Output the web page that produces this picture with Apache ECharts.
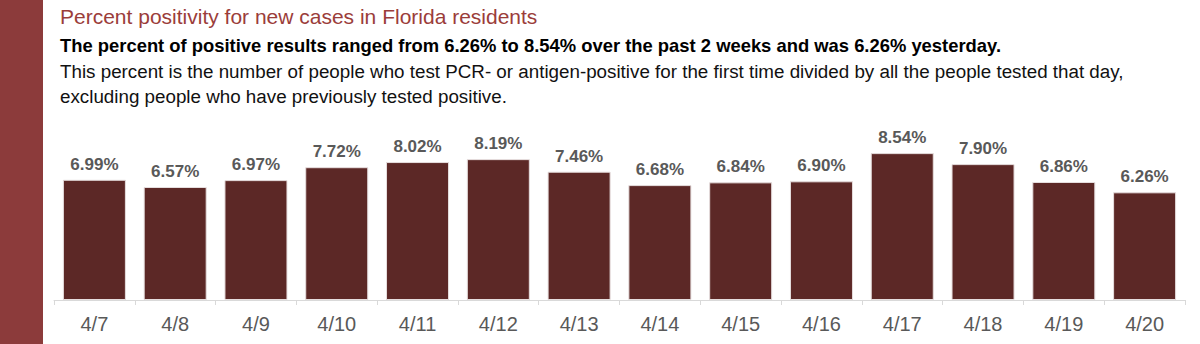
<!DOCTYPE html>
<html>
<head>
<meta charset="utf-8">
<script src="https://cdn.jsdelivr.net/npm/echarts@6/dist/echarts.min.js"></script>
<style>
html,body{margin:0;padding:0;background:#fff;}
#c{width:1200px;height:344px;}
</style>
</head>
<body>
<div id="c"></div>
<script>
const categories = ['4/7','4/8','4/9','4/10','4/11','4/12','4/13','4/14','4/15','4/16','4/17','4/18','4/19','4/20'];
const positivity = [6.99, 6.57, 6.97, 7.72, 8.02, 8.19, 7.46, 6.68, 6.84, 6.90, 8.54, 7.90, 6.86, 6.26];
const titleText = 'Percent positivity for new cases in Florida residents';
const subtitleText = 'The percent of positive results ranged from 6.26% to 8.54% over the past 2 weeks and was 6.26% yesterday.';
const noteLines = ['This percent is the number of people who test PCR- or antigen-positive for the first time divided by all the people tested that day,',
                   'excluding people who have previously tested positive.'];

const FONT = '"Liberation Sans", Arial, sans-serif';
const chart = echarts.init(document.getElementById('c'), null, {renderer: 'svg'});
chart.setOption({
  animation: false,
  backgroundColor: '#ffffff',
  graphic: [
    {type: 'rect', left: 0, top: 0, shape: {x: 0, y: 0, width: 43, height: 344}, style: {fill: '#8c3b3b'}},
    {type: 'text', left: 60, top: 6, style: {text: titleText, font: '21px ' + FONT, fill: '#9b3d3a'}},
    {type: 'text', left: 60, top: 36, style: {text: subtitleText, font: 'bold 18.4px ' + FONT, fill: '#000000'}},
    {type: 'text', left: 60, top: 62, style: {text: noteLines[0], font: '18.8px ' + FONT, fill: '#111111'}},
    {type: 'text', left: 60, top: 87, style: {text: noteLines[1], font: '18.8px ' + FONT, fill: '#111111'}}
  ],
  grid: {left: 54, right: 15, top: 128, bottom: 44, containLabel: false},
  xAxis: {
    type: 'category',
    data: categories,
    axisLine: {show: true, lineStyle: {color: '#d9d9d9', width: 1}},
    axisTick: {show: true, length: 5, lineStyle: {color: '#d9d9d9'}},
    axisLabel: {color: '#595959', fontSize: 20, fontFamily: FONT, margin: 14}
  },
  yAxis: {type: 'value', min: 0, max: 10, show: false, splitLine: {show: false}},
  series: [{
    type: 'bar',
    data: positivity,
    barCategoryGap: '22%',
    itemStyle: {color: '#5c2826', borderColor: '#e6dede', borderWidth: 1},
    label: {
      show: true, position: 'top', distance: 7,
      color: '#595959', fontSize: 17, fontWeight: 'bold', fontFamily: FONT,
      formatter: p => p.value.toFixed(2) + '%'
    }
  }]
});
</script>
</body>
</html>
